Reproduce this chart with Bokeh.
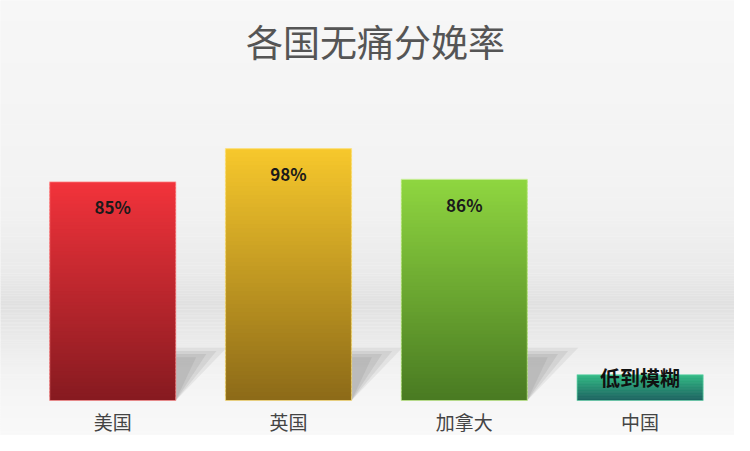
from bokeh.plotting import figure
from bokeh.models import Range1d
from bokeh.embed import file_html
from bokeh.resources import INLINE
from bokeh.core.properties import value

# ---- data ----
categories = ["美国", "英国", "加拿大", "中国"]
rates = [85, 98, 86, 10]
rate_labels = ["85%", "98%", "86%", "低到模糊"]
title_text = "各国无痛分娩率"

# ---- styles ----
top_colors = ["#f2333b", "#f7c82c", "#8fd640", "#22b57c"]
bottom_colors = ["#861a20", "#8c6a18", "#497a22", "#0c5654"]
edge_colors = ["#ff8a8a", "#ffe27a", "#c4f08a", "#5fd6a8"]
BAR_W = 0.717
PX = 2.571          # pixels per percentage point
BASE_PX = 400       # pixel row of the baseline from the top
W, H = 734, 435
X0_PX, STEP_PX = 112.2, 175.8
N_SLICES = 60
FONT = "Noto Sans CJK SC"

def hex2rgb(h):
    h = h.lstrip("#")
    return tuple(int(h[i:i + 2], 16) for i in (0, 2, 4))

def mix(c1, c2, t):
    a, b = hex2rgb(c1), hex2rgb(c2)
    return "#%02x%02x%02x" % tuple(round(a[i] + (b[i] - a[i]) * t) for i in range(3))

def py(px_from_top):
    return (BASE_PX - px_from_top) / PX

YMIN, YMAX = py(H), py(0)
p = figure(width=W, height=H, output_backend="svg", toolbar_location=None,
           x_range=Range1d(-X0_PX / STEP_PX, (W - X0_PX) / STEP_PX),
           y_range=Range1d(YMIN, YMAX),
           min_border_left=0, min_border_right=0, min_border_top=0, min_border_bottom=0)
p.background_fill_color = "#f6f6f6"
p.border_fill_color = "#f8f8f8"
p.outline_line_color = None
p.grid.visible = False
p.xaxis.visible = False
p.yaxis.visible = False

# background: soft horizon band (decorative)
stops = [(YMIN, "#f9f9f9"), (0.0, "#f6f6f6"), (12.0, "#f2f2f2"), (26.0, "#e9e9e9"),
         (37.0, "#e0e0e0"), (50.0, "#eaeaea"), (75.0, "#f2f2f2"), (YMAX, "#f7f7f7")]
bl, br, bb, bt, bc = [], [], [], [], []
for j in range(len(stops) - 1):
    (y0, c0), (y1, c1) = stops[j], stops[j + 1]
    n = 20
    for k in range(n):
        a = y0 + (y1 - y0) * k / n
        b = y0 + (y1 - y0) * (k + 1) / n
        bl.append(-1); br.append(5); bb.append(a); bt.append(b + 0.05)
        bc.append(mix(c0, c1, (k + 0.5) / n))
p.quad(left=bl, right=br, bottom=bb, top=bt, fill_color=bc, line_color=None)

# cast shadows to the right of the three tall bars
SH_H, SH_W = 20.5, 0.29
for i, v in enumerate(rates[:3]):
    xr = i + BAR_W / 2
    for w, al in [(1.0, 0.10), (0.8, 0.12), (0.6, 0.14), (0.4, 0.14)]:
        hh = SH_H * (0.7 + 0.3 * w)
        p.patch(x=[xr, xr, xr + SH_W * w], y=[0, hh, hh],
                fill_color="#6f6f6f", fill_alpha=al, line_color=None)

# gradient bars
L, R, B, T, C = [], [], [], [], []
for i, v in enumerate(rates):
    for k in range(N_SLICES):
        y0 = v * k / N_SLICES
        y1 = min(v, v * (k + 1.6) / N_SLICES)
        L.append(i - BAR_W / 2); R.append(i + BAR_W / 2)
        B.append(y0); T.append(y1)
        C.append(mix(bottom_colors[i], top_colors[i], (k + 0.5) / N_SLICES))
p.quad(left=L, right=R, bottom=B, top=T, fill_color=C, line_color=None)
p.quad(left=[i - BAR_W / 2 for i in range(4)], right=[i + BAR_W / 2 for i in range(4)],
       bottom=[0] * 4, top=rates, fill_color=None, line_color=edge_colors, line_width=1.2,
       line_alpha=0.6)

# value labels
p.text(x=[0, 1, 2], y=[v - 25 / PX for v in rates[:3]], text=rate_labels[:3],
       text_align="center", text_baseline="middle", text_font=value(FONT),
       text_font_style="bold", text_font_size="17px", text_color="#1a1a1a")
p.text(x=[3], y=[rates[3] - 3 / PX], text=[rate_labels[3]], text_align="center",
       text_baseline="middle", text_font=value(FONT), text_font_style="bold",
       text_font_size="20px", text_color="#111111")

# category labels
p.text(x=[0, 1, 2, 3], y=[py(421)] * 4, text=categories, text_align="center",
       text_baseline="middle", text_font=value(FONT), text_font_size="19px",
       text_color="#444444")

# title
p.text(x=[(375 - X0_PX) / STEP_PX], y=[py(40)], text=[title_text], text_align="center",
       text_baseline="middle", text_font=value(FONT), text_font_size="37px",
       text_color="#555555")

open("out.html", "w").write(file_html(p, INLINE))
